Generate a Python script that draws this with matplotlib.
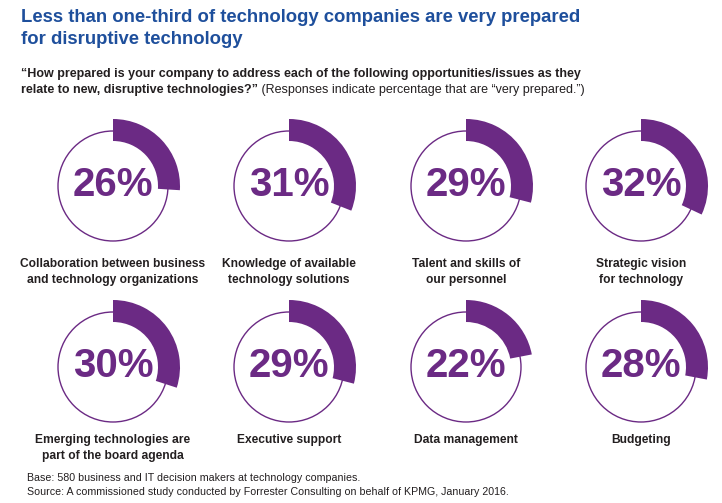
import matplotlib

matplotlib.use("Agg")

import matplotlib.pyplot as plt
from matplotlib.patches import Circle, Wedge

labels = [
    "Collaboration between business\nand technology organizations",
    "Knowledge of available\ntechnology solutions",
    "Talent and skills of\nour personnel",
    "Strategic vision\nfor technology",
    "Emerging technologies are\npart of the board agenda",
    "Executive support",
    "Data management",
    "Budgeting",
]
values = [26, 31, 29, 32, 30, 29, 22, 28]

title_1 = "Less than one-third of technology companies are very prepared"
title_2 = "for disruptive technology"
question_1 = "\u201cHow prepared is your company to address each of the following opportunities/issues as they"
question_2 = "relate to new, disruptive technologies?\u201d"
question_note = " (Responses indicate percentage that are \u201cvery prepared.\u201d)"
foot_1 = "Base: 580 business and IT decision makers at technology companies."
foot_2 = "Source: A commissioned study conducted by Forrester Consulting on behalf of KPMG, January 2016."

PURPLE = "#6b2a84"
BLUE = "#1e4f9c"
DARK = "#231f20"
FONT = "Liberation Sans"

fig = plt.figure(figsize=(7.22, 5.03), dpi=100)
ax = fig.add_axes([0, 0, 1, 1])
ax.set_xlim(0, 722)
ax.set_ylim(503, 0)
ax.axis("off")
renderer = fig.canvas.get_renderer()


def fit_size(text, width, weight="bold"):
    # the original uses a condensed face; size a normal one to the same width
    t = ax.text(0, 0, text, fontsize=10, fontweight=weight, family=FONT)
    w = t.get_window_extent(renderer).width
    t.remove()
    return 10 * width / w


col_x = [113, 289, 466, 641]
row_y = [186, 367]
label_gap = [72, 67]
r_circle, r_outer, band = 55, 67, 22

label_size = fit_size("Collaboration between business", 184)
for i, (lab, v) in enumerate(zip(labels, values)):
    cx, cy = col_x[i % 4], row_y[i // 4]
    ax.add_patch(Circle((cx, cy), r_circle, fill=False, ec=PURPLE, lw=1.0))
    # y axis is inverted, so angles run clockwise from 12 o'clock
    ax.add_patch(Wedge((cx, cy), r_outer, -90, -90 + 360 * v / 100,
                       width=band, fc=PURPLE, ec="none"))
    ax.text(cx, cy - 1, f"{v}%", ha="center", va="center", color=PURPLE,
            fontsize=29, fontweight="bold", family=FONT)
    ax.text(cx, cy + label_gap[i // 4], lab, ha="center", va="top", color=DARK,
            fontsize=label_size, fontweight="bold", family=FONT, linespacing=1.45)

title_size = fit_size(title_1, 561)
ax.text(21, 17, title_1, ha="left", va="center", color=BLUE, fontsize=title_size,
        fontweight="bold", family=FONT)
ax.text(21, 39, title_2, ha="left", va="center", color=BLUE, fontsize=title_size,
        fontweight="bold", family=FONT)

q_size = fit_size(question_1, 558)
ax.text(21, 74, question_1, ha="left", va="center", color=DARK, fontsize=q_size,
        fontweight="bold", family=FONT)
q2 = ax.text(21, 90, question_2, ha="left", va="center", color=DARK, fontsize=q_size,
             fontweight="bold", family=FONT)
bb = q2.get_window_extent(renderer).transformed(ax.transData.inverted())
ax.text(bb.x1, 90, question_note, ha="left", va="center", color=DARK, fontsize=q_size,
        family=FONT)

f_size = fit_size(foot_2, 478, weight="normal")
ax.text(27, 478, foot_1, ha="left", va="center", color=DARK, fontsize=f_size, family=FONT)
ax.text(27, 492, foot_2, ha="left", va="center", color=DARK, fontsize=f_size, family=FONT)

fig.savefig("out.png", dpi=100)
